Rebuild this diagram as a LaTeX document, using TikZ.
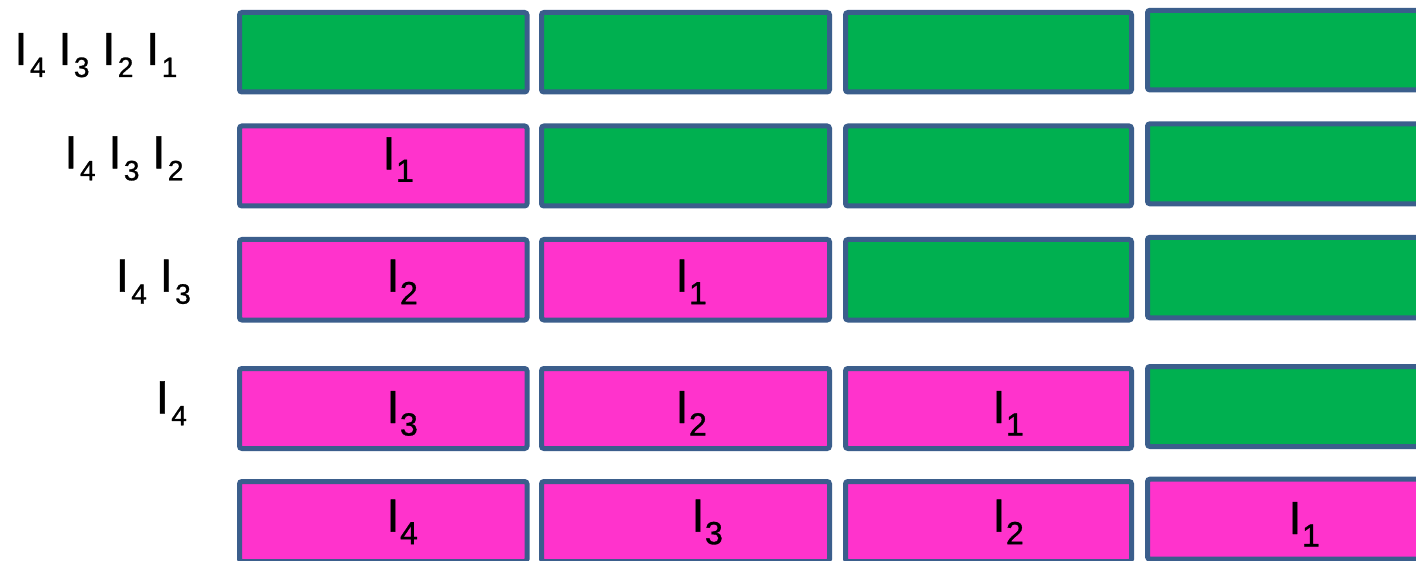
\documentclass[tikz,border=0pt]{standalone}
\usepackage{fontspec}
\setmainfont{Liberation Sans}
\newfontface\lblface{Liberation Sans}[FakeBold=1]
\definecolor{boxgreen}{HTML}{00B050}
\definecolor{boxpink}{HTML}{FF33CC}
\definecolor{boxedge}{HTML}{3B5E8C}
\newcommand{\Isb}[1]{I\kern2.5pt\raisebox{-12pt}{\fontsize{28pt}{30pt}\selectfont #1}}
\newcommand{\Icb}[1]{I\kern0.5pt\raisebox{-12.5pt}{\fontsize{32pt}{34pt}\selectfont #1}}
\tikzset{
  cell/.style={draw=boxedge, line width=5pt, rounded corners=2.5pt, inner sep=0pt, outer sep=0pt, anchor=north west},
  emptycell/.style={cell, fill=boxgreen},
  fullcell/.style={cell, fill=boxpink},
  lbl/.style={anchor=base west, inner sep=0pt, outer sep=0pt, font=\lblface\fontsize{46.5pt}{50pt}\selectfont}
}
\newcommand{\cellbox}[6]{% name, style, x1, y1, x2, y2
  \path (#3,#4) node[#2, minimum width={(#5-#3)*1pt}, minimum height={(#6-#4)*1pt}] (#1) {};}
\begin{document}
\begin{tikzpicture}[x=1pt,y=-1pt]
\clip (0,0) rectangle (1416,561);
\fill[white] (0,0) rectangle (1416,561);
% row 1
\cellbox{b11}{emptycell}{239.5}{12.5}{527}{92}
\cellbox{b12}{emptycell}{541.5}{12.5}{829.5}{92}
\cellbox{b13}{emptycell}{845.5}{12.5}{1131.5}{92}
\cellbox{b14}{emptycell}{1147.5}{10.3}{1435.5}{90}
% row 2
\cellbox{b21}{fullcell}{239.5}{126}{527}{206}
\cellbox{b22}{emptycell}{541.5}{126}{829.5}{206}
\cellbox{b23}{emptycell}{845.5}{126}{1131.5}{206}
\cellbox{b24}{emptycell}{1147.5}{123.8}{1435.5}{203.8}
% row 3
\cellbox{b31}{fullcell}{239.5}{239.5}{527}{320}
\cellbox{b32}{fullcell}{541.5}{239.5}{829.5}{320}
\cellbox{b33}{emptycell}{845.5}{239.5}{1131.5}{320}
\cellbox{b34}{emptycell}{1147.5}{237.3}{1435.5}{317.8}
% row 4
\cellbox{b41}{fullcell}{239.5}{368.5}{527}{448.5}
\cellbox{b42}{fullcell}{541.5}{368.5}{829.5}{448.5}
\cellbox{b43}{fullcell}{845.5}{368.5}{1131.5}{448.5}
\cellbox{b44}{emptycell}{1147.5}{366.5}{1435.5}{446.5}
% row 5
\cellbox{b51}{fullcell}{239.5}{481.5}{527}{561.5}
\cellbox{b52}{fullcell}{541.5}{481.5}{829.5}{561.5}
\cellbox{b53}{fullcell}{845.5}{481.5}{1131.5}{561.5}
\cellbox{b54}{fullcell}{1147.5}{479.2}{1435.5}{559.2}
% left labels
\node[lbl] (l1) at (14.6,65) {\Isb{4} \Isb{3} \Isb{2} \Isb{1}};
\node[lbl] (l2) at (64.6,168.3) {\Isb{4} \Isb{3} \Isb{2}};
\node[lbl] (l3) at (115.9,291.7) {\Isb{4} \Isb{3}};
\node[lbl] (l4) at (155.9,413.3) {\Isb{4}};
% texts in cells
\node[lbl] (t21) at (382.6,169.3) {\Icb{1}};
\node[lbl] (t31) at (386.6,291.7) {\Icb{2}};
\node[lbl] (t32) at (675.6,291.7) {\Icb{1}};
\node[lbl] (t41) at (386.6,423) {\Icb{3}};
\node[lbl] (t42) at (675.6,423) {\Icb{2}};
\node[lbl] (t43) at (992.6,423) {\Icb{1}};
\node[lbl] (t51) at (386.6,531.7) {\Icb{4}};
\node[lbl] (t52) at (691.6,531.7) {\Icb{3}};
\node[lbl] (t53) at (992.6,531.7) {\Icb{2}};
\node[lbl] (t54) at (1288.6,534) {\Icb{1}};
\end{tikzpicture}
\end{document}
